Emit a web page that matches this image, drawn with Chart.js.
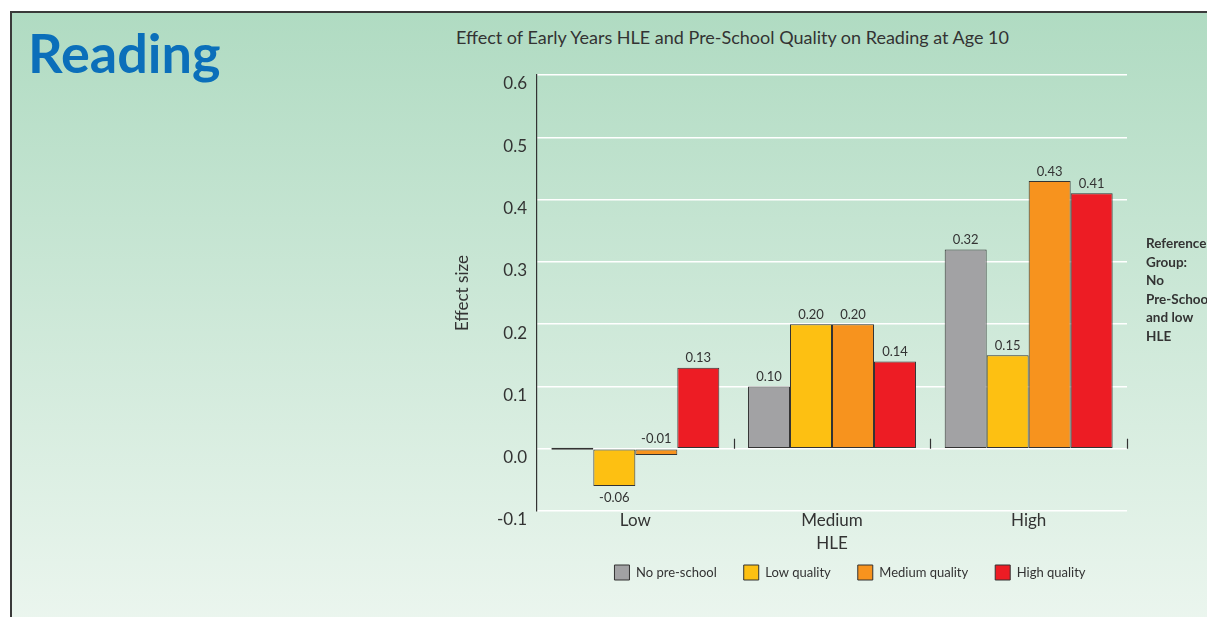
<!DOCTYPE html>
<html>
<head>
<meta charset="utf-8">
<script src="https://cdn.jsdelivr.net/npm/chart.js@4.4.0/dist/chart.umd.min.js"></script>
<style>
  body { margin: 0; width: 1207px; height: 617px; background: #fff; overflow: hidden; position: relative; font-family: Lato, "Open Sans", sans-serif; }
  #panel {
    position: absolute; left: 10px; top: 11px; width: 1210px; height: 620px;
    border-left: 2px solid #3a3a3a; border-top: 2px solid #3a3a3a;
    background: linear-gradient(#b0dbc2, #ecf6ef);
  }
  #heading { position: absolute; left: 28px; top: 20px; font: bold 54px Lato, sans-serif; color: #0b6fba; }
  #chartTitle { position: absolute; left: 456px; top: 26px; font-size: 18px; color: #333; }
  #refNote { position: absolute; left: 1146px; top: 234px; font: bold 13.5px/18.6px Lato, sans-serif; color: #333; white-space: nowrap; }
  #wrap { position: absolute; left: 440px; top: 20px; width: 820px; height: 570px; }
</style>
</head>
<body>
<div id="panel"></div>
<div id="heading">Reading</div>
<div id="chartTitle">Effect of Early Years HLE and Pre-School Quality on Reading at Age 10</div>
<div id="wrap"><canvas id="myChart"></canvas></div>
<div id="refNote">Reference<br>Group:<br>No<br>Pre-School<br>and low<br>HLE</div>
<script>
// Datos
const categorias = ['Low', 'Medium', 'High'];
const noPreSchool = [0, 0.10, 0.32];
const lowQuality = [-0.06, 0.20, 0.15];
const mediumQuality = [-0.01, 0.20, 0.43];
const highQuality = [0.13, 0.14, 0.41];
const yTicks = [-0.1, 0, 0.1, 0.2, 0.3, 0.4, 0.5, 0.6];

// Etiquetas de valor encima / debajo de cada barra
const etiquetas = {
    id: 'etiquetas',
    afterDatasetsDraw(chart) {
        const ctx = chart.ctx;
        const y0 = chart.scales.y.getPixelForValue(0);
        ctx.save();
        ctx.font = '13px Lato, sans-serif';
        ctx.fillStyle = '#333';
        ctx.textAlign = 'center';
        chart.data.datasets.forEach((ds, i) => {
            chart.getDatasetMeta(i).data.forEach((bar, j) => {
                const v = ds.data[j];
                if (v === 0) return;
                if (v > 0) {
                    ctx.textBaseline = 'bottom';
                    ctx.fillText(v.toFixed(2), bar.x, bar.y - 3);
                } else if (v > -0.03) {
                    // barras negativas muy cortas: etiqueta sobre la línea cero
                    ctx.textBaseline = 'bottom';
                    ctx.fillText(v.toFixed(2), bar.x, y0 - 3);
                } else {
                    ctx.textBaseline = 'top';
                    ctx.fillText(v.toFixed(2), bar.x, bar.y + 5);
                }
            });
        });
        ctx.restore();
    }
};

// Marcas pequeñas entre grupos sobre la línea cero
const marcas = {
    id: 'marcas',
    afterDatasetsDraw(chart) {
        const x = chart.scales.x, y = chart.scales.y;
        const y0 = y.getPixelForValue(0);
        const paso = x.width / categorias.length;
        const ctx = chart.ctx;
        ctx.save();
        ctx.strokeStyle = '#333';
        ctx.lineWidth = 1.2;
        for (let i = 0; i < categorias.length; i++) {
            const px = Math.round(x.getPixelForValue(i) + paso / 2) + 0.5;
            ctx.beginPath();
            ctx.moveTo(px, y0 - 10);
            ctx.lineTo(px, y0);
            ctx.stroke();
        }
        ctx.restore();
    }
};

const ctx = document.getElementById('myChart').getContext('2d');
const myChart = new Chart(ctx, {
    type: 'bar',
    data: {
        labels: categorias,
        datasets: [
            { label: 'No pre-school', data: noPreSchool, backgroundColor: '#a2a2a4' },
            { label: 'Low quality', data: lowQuality, backgroundColor: '#fdc012' },
            { label: 'Medium quality', data: mediumQuality, backgroundColor: '#f7931e' },
            { label: 'High quality', data: highQuality, backgroundColor: '#ed1c24' }
        ]
    },
    options: {
        responsive: true,
        maintainAspectRatio: false,
        animation: false,
        layout: { padding: { top: 55, right: 0, left: 0, bottom: 0 } },
        datasets: {
            bar: {
                borderColor: '#333',
                borderWidth: 1,
                borderSkipped: false,
                minBarLength: 2,
                categoryPercentage: 0.854,
                barPercentage: 1
            }
        },
        plugins: {
            legend: {
                position: 'bottom',
                labels: {
                    boxWidth: 15,
                    boxHeight: 15,
                    padding: 27,
                    color: '#333',
                    font: { family: 'Lato', size: 13 }
                }
            },
            tooltip: { enabled: false }
        },
        scales: {
            x: {
                afterFit: (scale) => { scale.height = 27; },
                grid: { display: false },
                border: { display: false },
                ticks: { color: '#333', font: { family: 'Lato', size: 17 }, padding: -9 },
                title: { display: true, text: 'HLE', color: '#333', font: { family: 'Lato', size: 17 }, padding: { top: 0, bottom: -16 } }
            },
            y: {
                min: -0.1,
                max: 0.6,
                afterBuildTicks: (scale) => { scale.ticks = yTicks.map(v => ({ value: v })); },
                afterFit: (scale) => { scale.width = 97; },
                grid: { color: '#ffffff', lineWidth: 1.5, drawTicks: false },
                border: { display: true, color: '#333', width: 1.2 },
                ticks: {
                    color: '#333',
                    font: { family: 'Lato', size: 17 },
                    padding: 10,
                    labelOffset: 9,
                    callback: (v) => Number(v).toFixed(1)
                },
                title: { display: true, text: 'Effect size', color: '#333', font: { family: 'Lato', size: 17 }, padding: { top: 12, bottom: 0 } }
            },
            // eje vacío a la derecha: deja sitio para la nota del grupo de referencia
            derecha: {
                position: 'right',
                min: -0.1,
                max: 0.6,
                afterFit: (scale) => { scale.width = 133; },
                grid: { display: false },
                border: { display: false },
                ticks: { display: false }
            }
        }
    },
    plugins: [etiquetas, marcas]
});
</script>
</body>
</html>
